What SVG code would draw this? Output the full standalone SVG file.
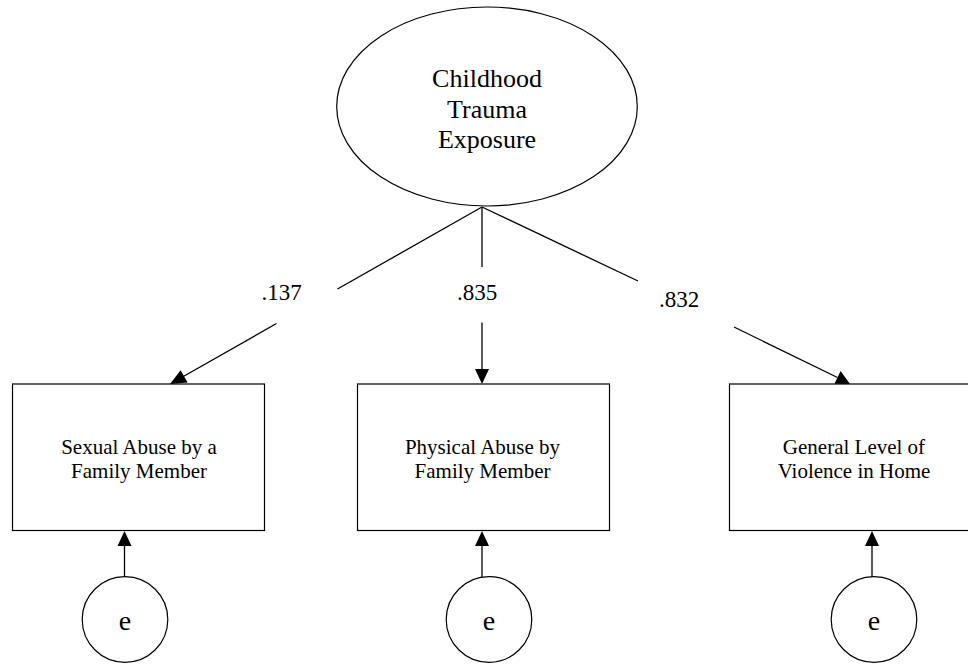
<svg xmlns="http://www.w3.org/2000/svg" width="968" height="664" viewBox="0 0 968 664">
  <style>
    .shape { fill: #ffffff; stroke: #000000; stroke-width: 1.2; }
    .edge { fill: none; stroke: #000000; stroke-width: 1.3; }
    .head { fill: #000000; stroke: none; }
    text { font-family: "Liberation Serif", "Times New Roman", serif; fill: #000000; text-anchor: middle; }
    .latent { font-size: 26px; }
    .obs { font-size: 21px; }
    .coef { font-size: 23px; }
    .err { font-size: 28px; }
  </style>
  <rect width="968" height="664" fill="#ffffff"/>

  <!-- paths and loadings -->
  <g id="connectors">
    <!-- loading on Sexual Abuse -->
    <line class="edge" x1="482" y1="207" x2="337.5" y2="289"/>
    <line class="edge" x1="276.5" y1="323.5" x2="182" y2="377.2"/>
    <polygon class="head" points="170,384 180.6,370.3 187.6,382.5"/>
    <!-- loading on Physical Abuse -->
    <line class="edge" x1="482" y1="207" x2="482" y2="267"/>
    <line class="edge" x1="482" y1="322.5" x2="482" y2="370"/>
    <polygon class="head" points="482,384 475,369 489,369"/>
    <!-- loading on General Violence -->
    <line class="edge" x1="482" y1="207" x2="638" y2="281"/>
    <line class="edge" x1="734" y1="327" x2="837.5" y2="377.5"/>
    <polygon class="head" points="850,384 834.5,383.7 840.6,371.1"/>
    <!-- error terms -->
    <line class="edge" x1="124.5" y1="577" x2="124.5" y2="545"/>
    <polygon class="head" points="124.5,531 117.5,546 131.5,546"/>
    <line class="edge" x1="482" y1="577" x2="482" y2="545"/>
    <polygon class="head" points="482,531 475,546 489,546"/>
    <line class="edge" x1="872" y1="577" x2="872" y2="545"/>
    <polygon class="head" points="872,531 865,546 879,546"/>
    <!-- coefficients -->
    <text class="coef" x="281.5" y="300">.137</text>
    <text class="coef" x="477" y="300">.835</text>
    <text class="coef" x="679" y="307">.832</text>
  </g>

  <g id="trauma">
    <ellipse class="shape" cx="487" cy="106.5" rx="150.3" ry="99.5"/>
    <text class="latent" x="487" y="87">Childhood</text>
    <text class="latent" x="487" y="117.5">Trauma</text>
    <text class="latent" x="487" y="148">Exposure</text>
  </g>

  <g id="sexual-abuse">
    <rect class="shape" x="12.5" y="384" width="252" height="146.5"/>
    <text class="obs" x="139" y="454">Sexual Abuse by a</text>
    <text class="obs" x="139" y="478">Family Member</text>
  </g>

  <g id="physical-abuse">
    <rect class="shape" x="357.5" y="384" width="252" height="146.5"/>
    <text class="obs" x="482.5" y="454">Physical Abuse by</text>
    <text class="obs" x="482.5" y="478">Family Member</text>
  </g>

  <g id="home-violence">
    <rect class="shape" x="729.5" y="384" width="252" height="146.5"/>
    <text class="obs" x="854" y="454">General Level of</text>
    <text class="obs" x="854" y="478">Violence in Home</text>
  </g>

  <g id="e1">
    <circle class="shape" cx="125" cy="619.5" r="42.8"/>
    <text class="err" x="125" y="630">e</text>
  </g>
  <g id="e2">
    <circle class="shape" cx="489" cy="619.5" r="42.8"/>
    <text class="err" x="489" y="630">e</text>
  </g>
  <g id="e3">
    <circle class="shape" cx="874" cy="619.5" r="42.8"/>
    <text class="err" x="874" y="630">e</text>
  </g>
</svg>
